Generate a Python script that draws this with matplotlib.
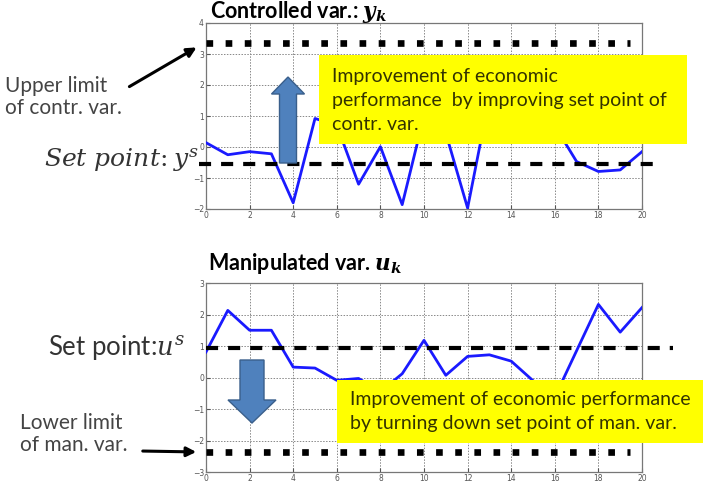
import numpy as np
import matplotlib
matplotlib.use("Agg")
import matplotlib.pyplot as plt
from matplotlib.transforms import Affine2D
from matplotlib.patches import Rectangle, Polygon, FancyArrowPatch

# ---------------- data ----------------
k = list(range(21))
y_ctrl = [0.14, -0.25, -0.15, -0.22, -1.8, 0.92, 0.7, -1.2, 0.01, -1.86, 1.0,
          0.45, -1.97, 1.6, 1.8, 1.2, 0.68, -0.47, -0.79, -0.74, -0.15]
u_man = [0.81, 2.13, 1.5, 1.5, 0.33, 0.3, -0.09, -0.03, -0.45, 0.12, 1.18,
         0.07, 0.67, 0.72, 0.52, -0.1, -0.62, 0.85, 2.32, 1.44, 2.22]
y_upper = 3.37
y_set = -0.55
u_set = 0.95
u_lower = -2.38
x_ticks = list(range(0, 21, 2))
y_ticks_top = [-2, -1, 0, 1, 2, 3, 4]
y_ticks_bot = [-3, -2, -1, 0, 1, 2, 3]

W, H = 704, 498
fig = plt.figure(figsize=(W / 100, H / 100), dpi=100)
PX = Affine2D().scale(1 / W, -1 / H).translate(0, 1) + fig.transFigure

def ax_rect(x0, y0, x1, y1):
    return [x0 / W, 1 - y1 / H, (x1 - x0) / W, (y1 - y0) / H]

BLUE = "#1a1aff"
GRAY = "#555555"
FONT = "Lato"

def style(ax, yt):
    ax.set_xlim(0, 20)
    ax.set_xticks(x_ticks)
    ax.set_yticks(yt)
    ax.set_ylim(yt[0], yt[-1])
    ax.grid(True, linestyle=(0, (1.5, 1.5)), color="#888888", linewidth=0.7)
    ax.tick_params(direction="in", labelsize=5.5, colors=GRAY, length=3, pad=1.5)
    for s in ax.spines.values():
        s.set_color("#777777")
        s.set_linewidth(0.9)

# ---------------- top axes ----------------
ax1 = fig.add_axes(ax_rect(206, 23, 642, 209))
style(ax1, y_ticks_top)
ax1.plot(k, y_ctrl, color=BLUE, lw=2.0, zorder=3)
ax1.plot([0, 19.45], [y_upper, y_upper], color="black", lw=4.8,
         dashes=(1, 1.87), dash_capstyle="butt", zorder=4)
ax1.plot([-0.3, 20.9], [y_set, y_set], color="black", lw=3,
         dashes=(2.9, 2.4), dash_capstyle="butt", clip_on=False, zorder=4)

# ---------------- bottom axes ----------------
ax2 = fig.add_axes(ax_rect(206, 283, 642, 472))
style(ax2, y_ticks_bot)
ax2.plot(k, u_man, color=BLUE, lw=2.0, zorder=3)
ax2.plot([0, 19.45], [u_lower, u_lower], color="black", lw=4.8,
         dashes=(1, 1.87), dash_capstyle="butt", zorder=4)
ax2.plot([0, 21.4], [u_set, u_set], color="black", lw=3,
         dashes=(2.9, 2.4), dash_capstyle="butt", clip_on=False, zorder=4)

# ---------------- titles ----------------
fig.text(210 / W, 1 - 12 / H, r"Controlled var.: $\mathbfit{y_k}$", fontsize=15.5,
         fontweight="bold", family=FONT, va="center", ha="left",
         math_fontfamily="dejavuserif")
fig.text(208 / W, 1 - 263 / H, r"Manipulated var. $\mathbfit{u_k}$", fontsize=15.5,
         fontweight="bold", family=FONT, va="center", ha="left",
         math_fontfamily="dejavuserif")

# ---------------- yellow boxes ----------------
YEL = "#ffff00"
fig.patches.append(Rectangle((319, 144), 368, -89, transform=PX, facecolor=YEL,
                             edgecolor="none", zorder=10))
fig.text(332 / W, 1 - 100 / H,
         "Improvement of economic\nperformance  by improving set point of\ncontr. var.",
         fontsize=14, family=FONT, color="#333300", va="center", ha="left",
         linespacing=1.5, zorder=11)
fig.patches.append(Rectangle((337, 443), 366, -63, transform=PX, facecolor=YEL,
                             edgecolor="none", zorder=10))
fig.text(350 / W, 1 - 412 / H,
         "Improvement of economic performance\nby turning down set point of man. var.",
         fontsize=14, family=FONT, color="#333300", va="center", ha="left",
         linespacing=1.5, zorder=11)

# ---------------- blue block arrows ----------------
def block_arrow(cx, tail, tip, shaft_w, head_w, head_l):
    d = 1 if tip > tail else -1
    hb = tip - d * head_l
    pts = [(cx - shaft_w / 2, tail), (cx + shaft_w / 2, tail), (cx + shaft_w / 2, hb),
           (cx + head_w / 2, hb), (cx, tip), (cx - head_w / 2, hb), (cx - shaft_w / 2, hb)]
    fig.patches.append(Polygon(pts, closed=True, transform=PX, facecolor="#4f81bd",
                               edgecolor="#3a5f8b", lw=1.0, zorder=9))

block_arrow(288, 163, 77, 17, 33, 17)
block_arrow(252, 360, 423, 24, 48, 23)

# ---------------- left labels ----------------
fig.text(5 / W, 1 - 97 / H, "Upper limit\nof contr. var.", fontsize=15, family=FONT,
         color="#444444", va="center", ha="left", linespacing=1.1)
fig.text(44 / W, 1 - 160 / H, r"$Set\ point\!:y^s$", fontsize=18, color="#333333",
         va="center", ha="left", math_fontfamily="dejavuserif")
fig.text(48 / W, 1 - 347 / H, r"Set point:$u^s$", fontsize=18.5, family=FONT,
         color="#333333", va="center", ha="left", math_fontfamily="dejavuserif")
fig.text(20 / W, 1 - 434 / H, "Lower limit\nof man. var.", fontsize=15, family=FONT,
         color="#444444", va="center", ha="left", linespacing=1.1)

fig.add_artist(FancyArrowPatch((127, 88), (199, 46), transform=PX,
               arrowstyle="-|>", mutation_scale=14, lw=2.2, color="black"))
fig.add_artist(FancyArrowPatch((140, 451), (199, 452), transform=PX,
               arrowstyle="-|>", mutation_scale=14, lw=2.2, color="black"))

fig.savefig("out.png", dpi=100)
